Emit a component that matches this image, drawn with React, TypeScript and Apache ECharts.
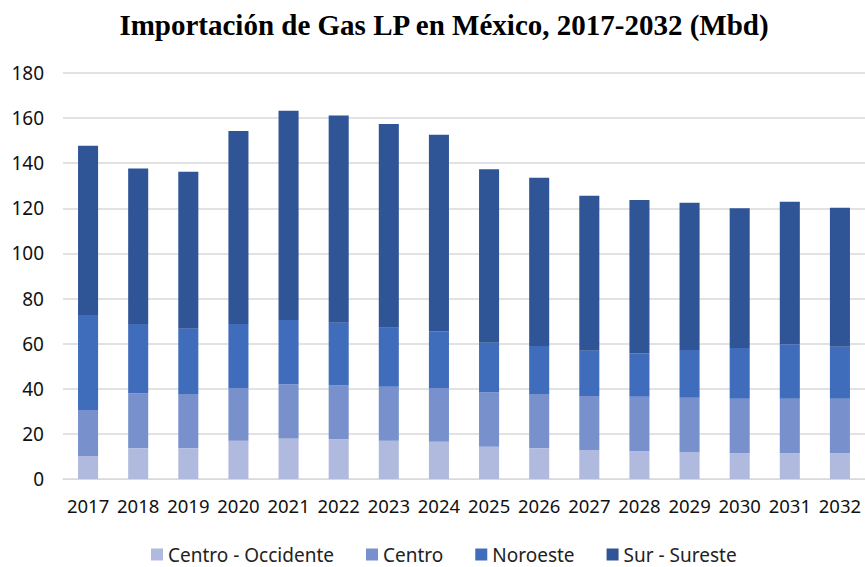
import React, { useEffect, useRef } from "react";
import * as echarts from "echarts";

const years = ["2017","2018","2019","2020","2021","2022","2023","2024","2025","2026","2027","2028","2029","2030","2031","2032"];
const centroOccidente = [10.2, 13.7, 13.7, 17.0, 18.0, 17.6, 17.0, 16.5, 14.3, 13.7, 12.9, 12.3, 11.7, 11.4, 11.4, 11.4];
const centro = [20.4, 24.3, 24.0, 23.3, 24.0, 23.8, 23.9, 23.8, 24.0, 24.0, 23.9, 24.2, 24.3, 24.2, 24.2, 24.2];
const noroeste = [42.1, 30.7, 28.9, 28.4, 28.5, 27.9, 26.2, 25.2, 22.1, 21.3, 20.1, 19.2, 21.2, 22.5, 24.1, 23.0];
const surSureste = [75.0, 69.0, 69.6, 85.6, 92.8, 91.9, 90.3, 87.1, 76.9, 74.6, 68.7, 68.0, 65.3, 61.9, 63.2, 61.7];
const seriesNames = ["Centro - Occidente", "Centro", "Noroeste", "Sur - Sureste"];
const colors = ["#b0bade", "#7891cd", "#406cbc", "#2f5597"];

export default function App() {
  const ref = useRef<HTMLDivElement>(null);
  useEffect(() => {
    if (!ref.current) return;
    const chart = echarts.init(ref.current, null, { renderer: "svg" });
    const data = [centroOccidente, centro, noroeste, surSureste];
    chart.setOption({
      animation: false,
      backgroundColor: "#ffffff",
      title: {
        text: "Importación de Gas LP en México, 2017-2032 (Mbd)",
        left: 439,
        textAlign: "center",
        top: 5,
        textStyle: { fontFamily: "Liberation Serif", fontWeight: "bold", fontSize: 29, color: "#000" },
      },
      legend: {
        bottom: -2,
        left: 146,
        itemWidth: 12,
        itemHeight: 12,
        itemGap: 32,
        icon: "rect",
        textStyle: { fontFamily: "Noto Sans", fontSize: 19, color: "#222" },
        data: seriesNames,
      },
      grid: { left: 63, right: 0, top: 73, bottom: 88, containLabel: false },
      xAxis: {
        type: "category",
        data: years,
        axisLine: { lineStyle: { color: "#d9d9d9" } },
        axisTick: { show: false },
        axisLabel: { interval: 0, fontFamily: "Noto Sans", fontSize: 18.5, color: "#111", margin: 17 },
      },
      yAxis: {
        type: "value",
        min: 0,
        max: 180,
        interval: 20,
        axisLine: { show: false },
        axisTick: { show: false },
        splitLine: { lineStyle: { color: "#d9d9d9", width: 1.5 } },
        axisLabel: { fontFamily: "Noto Sans", fontSize: 19, color: "#111", margin: 19 },
      },
      series: seriesNames.map((name, i) => ({
        name,
        type: "bar",
        stack: "total",
        barWidth: "40%",
        data: data[i],
        itemStyle: { color: colors[i] },
      })),
    });
    return () => chart.dispose();
  }, []);
  return <div ref={ref} style={{ width: 865, height: 567, position: "absolute", left: 0, top: 0 }} />;
}
